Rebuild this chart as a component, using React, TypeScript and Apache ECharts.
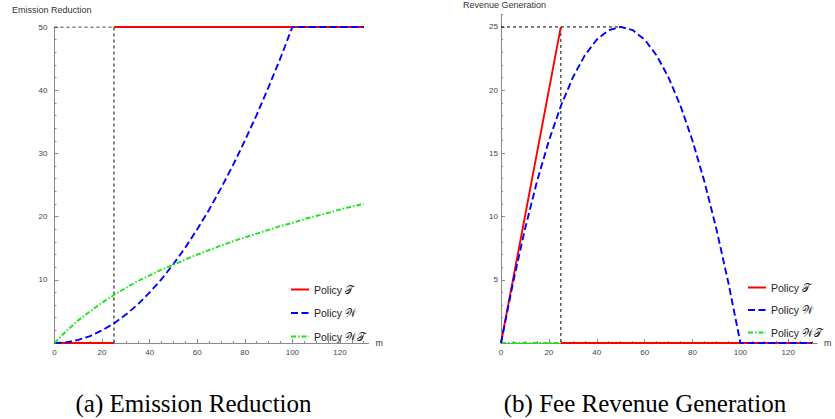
import React, { useEffect, useRef } from "react";
import * as echarts from "echarts";

// ---- data ----
const mValues = [0, 5, 10, 15, 20, 25, 30, 35, 40, 45, 50, 55, 60, 65, 70, 75, 80, 85, 90, 95, 100, 105, 110, 115, 120, 125, 130];
// (a) Emission Reduction
const emissionW = [0, 0.1, 0.5, 1.1, 2.0, 3.1, 4.5, 6.1, 8.0, 10.1, 12.5, 15.1, 18.0, 21.1, 24.5, 28.1, 32.0, 36.1, 40.5, 45.1, 50, 50, 50, 50, 50, 50, 50];
const emissionWT = [0, 1.9, 3.6, 5.0, 6.4, 7.6, 8.7, 9.8, 10.7, 11.6, 12.4, 13.2, 14.0, 14.7, 15.4, 16.1, 16.7, 17.3, 17.9, 18.5, 19.0, 19.6, 20.1, 20.6, 21.1, 21.6, 22.0];
const emissionT: (number | string)[][] = [[0, 0], [25, 0], [25, "-"], [25, 50], [130, 50]];
const emissionRef: (number | string)[][] = [[0, 50], [25, 50], [25, 0]];
// (b) Fee Revenue Generation
const revenueW = [0, 4.75, 9, 12.75, 16, 18.75, 21, 22.75, 24, 24.75, 25, 24.75, 24, 22.75, 21, 18.75, 16, 12.75, 9, 4.75, 0, 0, 0, 0, 0, 0, 0];
const revenueT: (number | string)[][] = [[0, 0], [25, 25], [25, "-"], [25, 0], [130, 0]];
const revenueWT: number[][] = [[0, 0], [25, 0]];
const revenueRef: (number | string)[][] = [[0, 25], [50, 25], [25, "-"], [25, 25], [25, 0]];

// ticks
const xLabelTicks = [0, 20, 40, 60, 80, 100, 120];
const xMinorTicks = [0, 5, 10, 15, 20, 25, 30, 35, 40, 45, 50, 55, 60, 65, 70, 75, 80, 85, 90, 95, 100, 105, 110, 115, 120, 125, 130];
const yLeftLabels = [10, 20, 30, 40, 50];
const yLeftMinor = [0, 2, 4, 6, 8, 12, 14, 16, 18, 22, 24, 26, 28, 32, 34, 36, 38, 42, 44, 46, 48];
const yRightLabels = [5, 10, 15, 20, 25];
const yRightMinor = [1, 2, 3, 4, 6, 7, 8, 9, 11, 12, 13, 14, 16, 17, 18, 19, 21, 22, 23, 24, 26];

const nameT = "Policy 𝒯";
const nameW = "Policy 𝒲";
const nameWT = "Policy 𝒲𝒯";

const RED = "#ff0000";
const BLUE = "#0000ff";
const GREEN = "#19e619";
const AXIS = "#8a8a8a";
const LABEL = "#444";
const SANS = "Liberation Sans, Arial, sans-serif";
const SERIF = "Liberation Serif, serif";
const DASH_W = [7, 3.5];
const DASH_WT = [5, 2, 1.5, 2];

function pair(xs: number[], ys: number[]) {
  return xs.map((x, i) => [x, ys[i]]);
}

function mainX(gridIndex: number) {
  return {
    type: "value", gridIndex, min: 0, max: 132, position: "bottom",
    name: "m", nameLocation: "end", nameGap: 7,
    nameTextStyle: { fontSize: 9, color: "#333", fontFamily: SANS },
    axisLine: { show: true, lineStyle: { color: AXIS, width: 1 } },
    axisTick: { show: true, inside: true, length: 4, customValues: xLabelTicks, lineStyle: { color: AXIS } },
    axisLabel: { show: true, customValues: xLabelTicks, fontSize: 8, color: LABEL, margin: 5, fontFamily: SANS },
    splitLine: { show: false },
  };
}
function minorX(gridIndex: number) {
  return {
    type: "value", gridIndex, min: 0, max: 132, position: "bottom",
    axisLine: { show: false },
    axisTick: { show: true, inside: true, length: 2, customValues: xMinorTicks, lineStyle: { color: AXIS } },
    axisLabel: { show: false },
    splitLine: { show: false },
  };
}
function mainY(gridIndex: number, max: number, labels: number[], margin: number) {
  return {
    type: "value", gridIndex, min: 0, max, position: "left",
    axisLine: { show: true, lineStyle: { color: AXIS, width: 1 } },
    axisTick: { show: true, inside: true, length: 4, customValues: [0, ...labels], lineStyle: { color: AXIS } },
    axisLabel: { show: true, customValues: labels, fontSize: 8, color: LABEL, margin, fontFamily: SANS },
    splitLine: { show: false },
  };
}
function minorY(gridIndex: number, max: number, minors: number[]) {
  return {
    type: "value", gridIndex, min: 0, max, position: "left",
    axisLine: { show: false },
    axisTick: { show: true, inside: true, length: 2, customValues: minors, lineStyle: { color: AXIS } },
    axisLabel: { show: false },
    splitLine: { show: false },
  };
}

function lineSeries(name: string, data: any[], axis: number, color: string, type: any, z: number) {
  return {
    type: "line", name, data, xAxisIndex: axis, yAxisIndex: axis,
    symbol: "none", showSymbol: false, connectNulls: false, z,
    lineStyle: { color, width: 1.9, type },
    itemStyle: { color },
  };
}
function refSeries(data: any[], axis: number) {
  return {
    type: "line", name: "ref", data, xAxisIndex: axis, yAxisIndex: axis,
    symbol: "none", showSymbol: false, connectNulls: false, z: 1, silent: true,
    lineStyle: { color: "#000", width: 1, type: [3, 3] },
  };
}

export default function App() {
  const ref = useRef<HTMLDivElement>(null);
  useEffect(() => {
    if (!ref.current) return;
    const chart = echarts.init(ref.current, undefined, { renderer: "svg" });
    const legendBase = {
      orient: "vertical", itemWidth: 18, itemHeight: 10,
      textStyle: { fontSize: 10.5, color: "#222", fontFamily: SANS },
      itemStyle: { color: "transparent", borderColor: "transparent", borderWidth: 0, opacity: 0 },
      data: [nameT, nameW, nameWT], selectedMode: false,
    };
    chart.setOption({
      animation: false,
      backgroundColor: "#fff",
      grid: [
        { left: 54.5, top: 27, width: 314, height: 316 },
        { left: 501, top: 14.3, width: 316, height: 328.7 },
      ],
      xAxis: [mainX(0), minorX(0), mainX(1), minorX(1)],
      yAxis: [
        mainY(0, 50, yLeftLabels, 7), minorY(0, 50, yLeftMinor),
        mainY(1, 26, yRightLabels, 3), minorY(1, 26, yRightMinor),
      ],
      legend: [
        { ...legendBase, left: 285, top: 279, itemGap: 12.5 },
        { ...legendBase, left: 742, top: 277, itemGap: 11.5 },
      ],
      graphic: [
        { type: "text", left: 12, top: 5, style: { text: "Emission Reduction", fontSize: 9, fill: "#333", fontFamily: SANS } },
        { type: "text", left: 463, top: 0, style: { text: "Revenue Generation", fontSize: 9, fill: "#333", fontFamily: SANS } },
        { type: "text", x: 193.5, y: 403, style: { text: "(a) Emission Reduction", fontSize: 25, fill: "#000", fontFamily: SERIF, align: "center", verticalAlign: "middle" } },
        { type: "text", x: 645, y: 403, style: { text: "(b) Fee Revenue Generation", fontSize: 25, fill: "#000", fontFamily: SERIF, align: "center", verticalAlign: "middle" } },
      ],
      series: [
        refSeries(emissionRef, 0),
        lineSeries(nameT, emissionT, 0, RED, "solid", 2),
        lineSeries(nameW, pair(mValues, emissionW), 0, BLUE, DASH_W, 3),
        lineSeries(nameWT, pair(mValues, emissionWT), 0, GREEN, DASH_WT, 4),
        refSeries(revenueRef, 2),
        lineSeries(nameWT, revenueWT, 2, GREEN, DASH_WT, 2),
        lineSeries(nameT, revenueT, 2, RED, "solid", 3),
        lineSeries(nameW, pair(mValues, revenueW), 2, BLUE, DASH_W, 4),
      ],
    });
    return () => chart.dispose();
  }, []);
  return (
    <div
      ref={ref}
      style={{ position: "fixed", left: 0, top: 0, width: 835, height: 419, background: "#fff" }}
    />
  );
}
